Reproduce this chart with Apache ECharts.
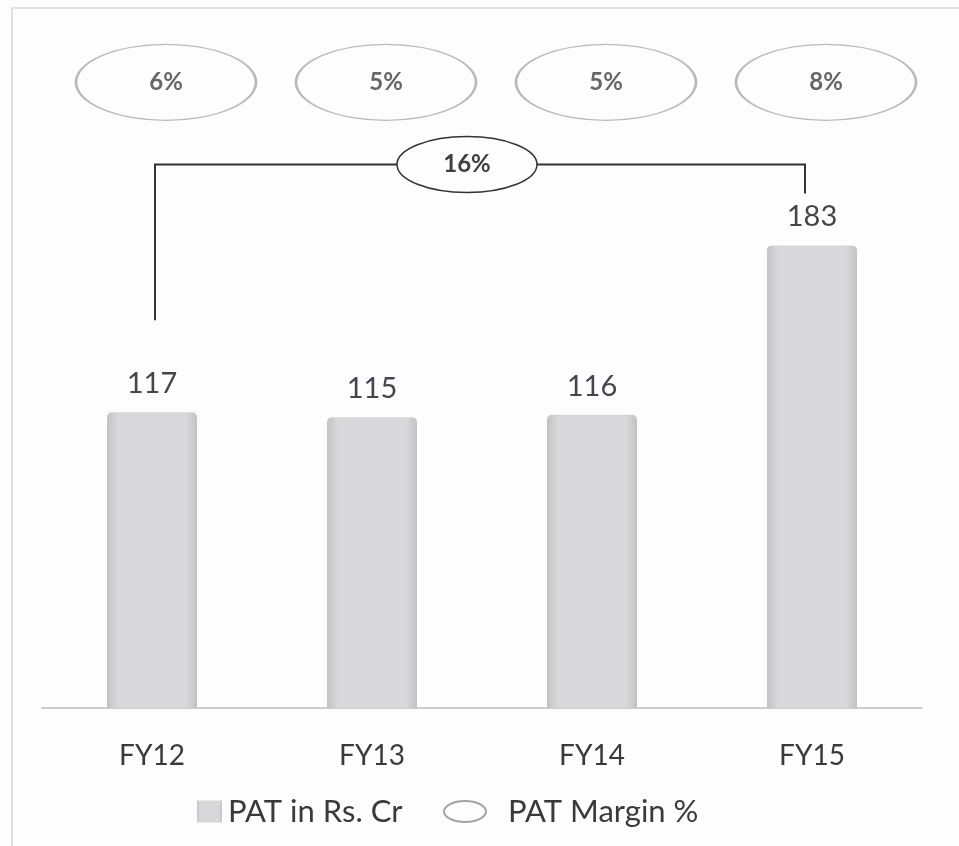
<!DOCTYPE html>
<html>
<head>
<meta charset="utf-8">
<script src="https://cdn.jsdelivr.net/npm/echarts@6/dist/echarts.min.js"></script>
<style>
  html, body { margin: 0; padding: 0; background: #fdfdfd; }
  #main { width: 959px; height: 846px; }
</style>
</head>
<body>
<div id="main"></div>
<script>
// data
const categories = ['FY12', 'FY13', 'FY14', 'FY15'];
const patValues = [117, 115, 116, 183];
const marginLabels = ['6%', '5%', '5%', '8%'];
const cagrLabel = '16%';

const yMax = 250;
const ellipse = 'path://M0,20 A40,20 0 1,1 80,20 A40,20 0 1,1 0,20 Z';
const font = 'Lato, "Open Sans", sans-serif';

const chart = echarts.init(document.getElementById('main'));

const option = {
  backgroundColor: '#fdfdfd',
  animation: false,
  grid: { left: 42, right: 37, top: 76, bottom: 138 },
  legend: [
    {
      data: [{ name: 'PAT in Rs. Cr', icon: 'rect' }],
      left: 192, top: 791, itemWidth: 25, itemHeight: 22,
      textStyle: { fontSize: 31, color: '#3a3a3a', fontFamily: font, padding: [0, 0, 0, 1] }
    },
    {
      data: [{
        name: 'PAT Margin %', icon: ellipse,
        itemStyle: { color: '#fdfdfd', borderColor: '#8e8a92', borderWidth: 2 }
      }],
      left: 438, top: 791, itemWidth: 54, itemHeight: 21,
      textStyle: { fontSize: 31, color: '#3a3a3a', fontFamily: font, padding: [0, 0, 0, 11] }
    }
  ],
  xAxis: {
    type: 'category',
    data: categories,
    axisTick: { show: false },
    axisLine: { lineStyle: { color: '#bdbdbd', width: 1.5 } },
    axisLabel: { fontSize: 28, color: '#3a3a3a', margin: 34, fontFamily: font }
  },
  yAxis: {
    type: 'value', min: 0, max: yMax,
    show: false, splitLine: { show: false }
  },
  series: [
    {
      name: 'PAT in Rs. Cr',
      type: 'bar',
      data: patValues,
      barWidth: 90,
      itemStyle: {
        color: new echarts.graphic.LinearGradient(0, 0, 1, 0, [
          { offset: 0, color: '#c2c2c5' },
          { offset: 0.12, color: '#d8d8da' },
          { offset: 0.88, color: '#d8d8da' },
          { offset: 1, color: '#c2c2c5' }
        ]),
        borderRadius: [5, 5, 0, 0]
      },
      label: {
        show: true, position: 'top', distance: 14,
        fontSize: 29, color: '#45454f', fontFamily: font
      }
    },
    {
      name: 'PAT Margin %',
      type: 'scatter',
      data: marginLabels.map((m, i) => ({ value: [i, yMax * 0.99], label: { formatter: m } })),
      symbol: ellipse,
      symbolSize: [180, 76],
      symbolOffset: [14, 0],
      itemStyle: { color: '#fdfdfd', borderColor: '#aaa6ae', borderWidth: 1.8 },
      label: {
        show: true, position: 'inside',
        fontSize: 24, fontWeight: 'bold', color: '#404040', fontFamily: font
      },
      z: 3
    },
    {
      type: 'custom',
      data: [[0, 3]],
      renderItem: function (params, api) {
        const first = api.value(0), last = api.value(1);
        const base = api.coord([first, patValues[first]]);
        const end = api.coord([last, patValues[last]]);
        const topY = api.coord([first, yMax * 0.86])[1];
        const x1 = base[0] + 3, x2 = end[0] - 7;
        const midX = (x1 + x2) / 2 - 13;
        return {
          type: 'group',
          children: [
            {
              type: 'polyline',
              shape: { points: [[x1, base[1] - 92], [x1, topY], [x2, topY], [x2, end[1] - 52]] },
              style: { stroke: '#333', lineWidth: 2, fill: null }
            },
            {
              type: 'ellipse',
              shape: { cx: midX, cy: topY, rx: 70, ry: 28 },
              style: { fill: '#fdfdfd', stroke: '#333', lineWidth: 1.5 }
            },
            {
              type: 'text',
              x: midX, y: topY,
              style: {
                text: cagrLabel, align: 'center', verticalAlign: 'middle',
                fontSize: 24, fontWeight: 'bold', fill: '#404040', fontFamily: font
              }
            }
          ]
        };
      }
    }
  ],
  graphic: [
    {
      type: 'rect',
      shape: { x: 12, y: 8, width: 950, height: 850 },
      style: { fill: null, stroke: '#d6d6d6', lineWidth: 1.5 },
      silent: true
    }
  ]
};

chart.setOption(option);
</script>
</body>
</html>
